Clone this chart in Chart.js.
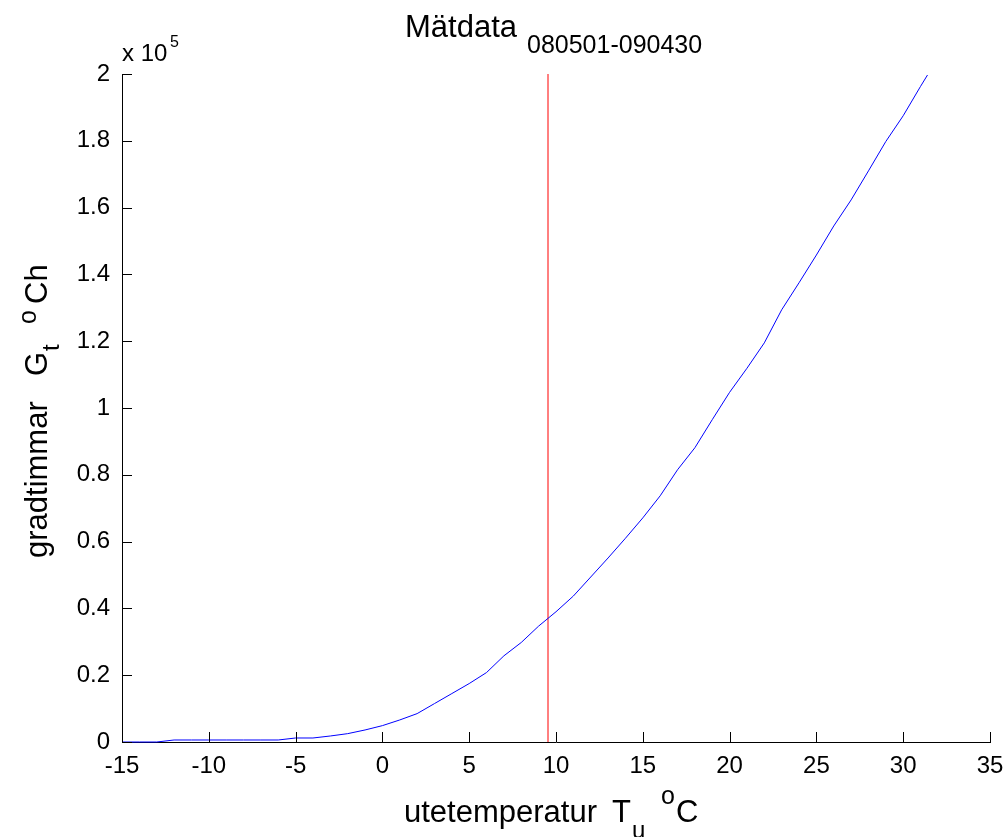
<!DOCTYPE html>
<html lang="sv">
<head>
  <meta charset="UTF-8" />
  <title>Mätdata</title>
  <script src="https://cdn.jsdelivr.net/npm/chart.js"></script>
  <style>
    body { margin: 0; background: #fff; }
    #wrap { width: 1008px; height: 837px; }
  </style>
</head>
<body>
  <div id="wrap"><canvas id="chart"></canvas></div>

  <script>
    // utetemperatur (°C) and accumulated gradtimmar (°Ch)
    const temps = [-15, -14, -13, -12, -11, -10, -9, -8, -7, -6, -5, -4, -3, -2, -1,
      0, 1, 2, 3, 4, 5, 6, 7, 8, 9, 10, 11, 12, 13, 14, 15, 16, 17, 18, 19, 20,
      21, 22, 23, 24, 25, 26, 27, 28, 29, 30, 31, 31.4];
    const gradtimmar = [0, 0, 0, 600, 600, 600, 600, 600, 600, 600, 1200, 1200, 1800, 2500, 3600,
      4900, 6600, 8500, 11500, 14500, 17500, 20800, 25800, 29800, 34700, 39000, 43700, 49400, 55100, 61000, 67100, 73700, 81500, 88100, 96500, 104700,
      111900, 119500, 129400, 137500, 145800, 154500, 162300, 171000, 179800, 187500, 196300, 199700];

    // vertical marker
    const markerTemp = 9.54;
    const markerRange = [0, 200000];

    const xTicks = [-15, -10, -5, 0, 5, 10, 15, 20, 25, 30, 35];
    const yTicks = [0, 20000, 40000, 60000, 80000, 100000, 120000, 140000, 160000, 180000, 200000];

    const SANS = '"Liberation Sans", Arial, Helvetica, sans-serif';

    function txt(ctx, s, x, y, size) {
      ctx.font = size + 'px ' + SANS;
      ctx.fillText(s, x, y);
    }

    // ticks pointing inwards, title and axis labels with sub/superscripts
    const decor = {
      id: 'decor',
      afterDraw(chart) {
        const ctx = chart.ctx;
        const xs = chart.scales.x, ys = chart.scales.y;
        const a = chart.chartArea;
        ctx.save();
        ctx.strokeStyle = '#000';
        ctx.lineWidth = 1;
        ctx.beginPath();
        xTicks.forEach(v => {
          const px = Math.round(xs.getPixelForValue(v)) + 0.5;
          ctx.moveTo(px, a.bottom);
          ctx.lineTo(px, a.bottom - 10);
        });
        yTicks.forEach(v => {
          const py = Math.round(ys.getPixelForValue(v)) + 0.5;
          ctx.moveTo(a.left, py);
          ctx.lineTo(a.left + 10, py);
        });
        ctx.stroke();

        ctx.fillStyle = '#000';
        ctx.textBaseline = 'alphabetic';
        ctx.textAlign = 'left';

        // title
        txt(ctx, 'Mätdata', 405, 37, 31);
        txt(ctx, '080501-090430', 527, 53, 25);

        // exponent
        txt(ctx, 'x 10', 122, 61, 24);
        txt(ctx, '5', 170, 47, 16);

        // x axis label
        txt(ctx, 'utetemperatur', 404, 822, 31);
        txt(ctx, 'T', 612, 822, 31);
        txt(ctx, 'u', 632, 838, 24);
        txt(ctx, 'o', 661, 804, 25);
        txt(ctx, 'C', 676, 822, 31);

        // y axis label, rotated
        ctx.translate(47, 558);
        ctx.rotate(-Math.PI / 2);
        txt(ctx, 'gradtimmar', 0, 0, 31);
        txt(ctx, 'G', 182, 0, 31);
        txt(ctx, 't', 207, 12, 24);
        txt(ctx, 'o', 234, -11, 25);
        txt(ctx, 'Ch', 254, 0, 31);
        ctx.restore();
      }
    };

    new Chart(document.getElementById('chart'), {
      type: 'scatter',
      data: {
        datasets: [
          {
            label: 'gradtimmar',
            data: temps.map((t, i) => ({ x: t, y: gradtimmar[i] })),
            showLine: true,
            borderColor: '#0000ff',
            borderWidth: 1,
            pointRadius: 0,
            tension: 0,
            clip: false
          },
          {
            label: 'marker',
            data: markerRange.map(v => ({ x: markerTemp, y: v })),
            showLine: true,
            borderColor: '#ff0000',
            borderWidth: 1,
            pointRadius: 0,
            clip: false
          }
        ]
      },
      options: {
        responsive: true,
        maintainAspectRatio: false,
        animation: false,
        layout: { padding: { top: 74, right: 18, left: 0, bottom: 0 } },
        plugins: {
          legend: { display: false },
          tooltip: { enabled: false },
          title: { display: false }
        },
        scales: {
          x: {
            type: 'linear',
            min: -15,
            max: 35,
            afterBuildTicks: s => { s.ticks = xTicks.map(v => ({ value: v })); },
            afterFit: s => { s.height = 95; s.paddingLeft = 0; s.paddingRight = 0; },
            grid: { display: false, drawTicks: false },
            border: { display: true, color: '#000', width: 1 },
            ticks: {
              color: '#000',
              font: { family: SANS, size: 24 },
              padding: 10,
              maxRotation: 0,
              autoSkip: false
            }
          },
          y: {
            type: 'linear',
            min: 0,
            max: 200000,
            afterBuildTicks: s => { s.ticks = yTicks.map(v => ({ value: v })); },
            afterFit: s => { s.width = 122; s.paddingTop = 0; s.paddingBottom = 0; },
            grid: { display: false, drawTicks: false },
            border: { display: true, color: '#000', width: 1 },
            ticks: {
              color: '#000',
              font: { family: SANS, size: 24 },
              padding: 12,
              autoSkip: false,
              callback: v => String(Math.round(v / 1e5 * 10) / 10)
            }
          }
        }
      },
      plugins: [decor]
    });
  </script>
</body>
</html>
